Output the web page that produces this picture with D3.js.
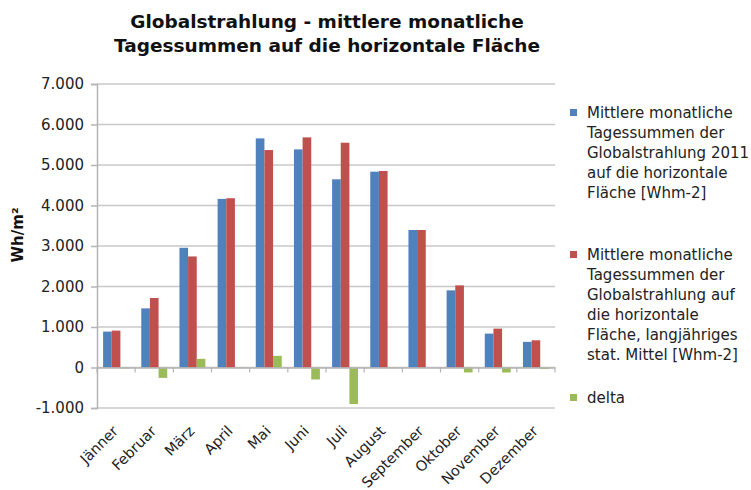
<!DOCTYPE html>
<html>
<head>
<meta charset="utf-8">
<script src="https://cdn.jsdelivr.net/npm/d3@7"></script>
<style>
  html, body { margin: 0; padding: 0; background: #fff; }
  svg { display: block; font-family: "DejaVu Sans", Verdana, sans-serif; }
</style>
</head>
<body>
<svg id="chart" width="751" height="490"></svg>
<script>
const categories = ["Jänner", "Februar", "März", "April", "Mai", "Juni", "Juli", "August", "September", "Oktober", "November", "Dezember"];
const values2011 = [887, 1460, 2956, 4163, 5657, 5386, 4647, 4835, 3395, 1905, 837, 633];
const valuesMean = [911, 1716, 2742, 4180, 5369, 5682, 5550, 4852, 3395, 2027, 960, 672];
const valuesDelta = [-24, -256, 214, -17, 288, -296, -903, -17, 0, -122, -123, -39];
const yTickValues = [-1000, 0, 1000, 2000, 3000, 4000, 5000, 6000, 7000];
const seriesNames = [
  ["Mittlere monatliche", "Tagessummen der", "Globalstrahlung 2011", "auf die horizontale", "Fläche [Whm-2]"],
  ["Mittlere monatliche", "Tagessummen der", "Globalstrahlung auf", "die horizontale", "Fläche, langjähriges", "stat. Mittel [Whm-2]"],
  ["delta"]
];
const seriesColors = ["#4f81bd", "#c0504d", "#9bbb59"];
const titleLines = ["Globalstrahlung - mittlere monatliche", "Tagessummen auf die horizontale Fläche"];
const yTitle = "Wh/m²";

const seriesValues = [values2011, valuesMean, valuesDelta];
const svg = d3.select("#chart");

const plot = { left: 97, right: 555, top: 84, bottom: 408 };

const x0 = d3.scaleBand().domain(categories).range([plot.left, plot.right])
  .paddingInner(0.32).paddingOuter(0.16);
const x1 = d3.scaleBand().domain([0, 1, 2]).range([0, x0.bandwidth()]);
const y = d3.scaleLinear().domain([-1000, 7000]).range([plot.bottom, plot.top]);

const locale = d3.formatLocale({ decimal: ",", thousands: ".", grouping: [3], currency: ["", " €"], minus: "-" });
const fmt = locale.format(",.0f");

const gridColor = "#c8c8c8";

// Gridlines
svg.append("g").selectAll("line").data(yTickValues).join("line")
  .attr("x1", plot.left).attr("x2", plot.right)
  .attr("y1", d => y(d)).attr("y2", d => y(d))
  .attr("stroke", gridColor).attr("stroke-width", 1.5);

// Y axis
const yAxis = svg.append("g").attr("transform", `translate(${plot.left},0)`)
  .call(d3.axisLeft(y).tickValues(yTickValues).tickFormat(fmt).tickSize(6).tickPadding(7));
yAxis.select(".domain").attr("stroke", "#b4b4b4").attr("stroke-width", 1.5);
yAxis.selectAll(".tick line").attr("stroke", "#b4b4b4").attr("stroke-width", 1.5);
yAxis.selectAll(".tick text").attr("font-size", 15).attr("fill", "#222")
  .attr("font-family", "DejaVu Sans, Verdana, sans-serif");

// Bars
const groups = svg.append("g").selectAll("g").data(categories).join("g")
  .attr("transform", d => `translate(${x0(d)},0)`);
groups.selectAll("rect").data((d, i) => seriesValues.map((s, k) => ({ k, v: s[i] }))).join("rect")
  .attr("x", d => x1(d.k))
  .attr("width", x1.bandwidth())
  .attr("y", d => y(Math.max(0, d.v)))
  .attr("height", d => Math.abs(y(d.v) - y(0)))
  .attr("fill", d => seriesColors[d.k]);

// X axis (zero line)
const xAxis = svg.append("g").attr("transform", `translate(0,${y(0)})`)
  .call(d3.axisBottom(x0).tickSize(0).tickFormat(""));
xAxis.select(".domain").attr("stroke", "#b4b4b4").attr("stroke-width", 1.5);
const boundaries = d3.range(categories.length + 1).map(i => plot.left + i * x0.step());
svg.append("g").selectAll("line").data(boundaries).join("line")
  .attr("x1", d => d).attr("x2", d => d)
  .attr("y1", y(0)).attr("y2", y(0) + 5)
  .attr("stroke", "#b4b4b4").attr("stroke-width", 1.2);

// X labels rotated
svg.append("g").selectAll("text").data(categories).join("text")
  .attr("transform", d => `translate(${x0(d) + x0.bandwidth() / 2 + 3},${432}) rotate(-45)`)
  .attr("text-anchor", "end")
  .attr("font-size", 14.5).attr("fill", "#222")
  .text(d => d);

// Title
svg.append("g").selectAll("text").data(titleLines).join("text")
  .attr("x", 327).attr("y", (d, i) => 28 + i * 24)
  .attr("text-anchor", "middle")
  .attr("font-size", 18.5).attr("font-weight", "bold").attr("fill", "#111")
  .text(d => d);

// Y title
svg.append("text")
  .attr("transform", `translate(23,235) rotate(-90)`)
  .attr("text-anchor", "middle")
  .attr("font-size", 15).attr("font-weight", "bold").attr("fill", "#111")
  .text(yTitle);

// Legend
const legendStarts = [118, 260, 403];
const legend = svg.append("g").selectAll("g").data(seriesNames).join("g");
legend.append("rect")
  .attr("x", 570).attr("y", (d, i) => legendStarts[i] - 9)
  .attr("width", 7).attr("height", 7)
  .attr("fill", (d, i) => seriesColors[i]);
legend.append("text")
  .attr("font-size", 15).attr("fill", "#222")
  .selectAll("tspan").data((d, i) => d.map((line, j) => ({ line, j, i }))).join("tspan")
  .attr("x", 587).attr("y", d => legendStarts[d.i] + d.j * 20)
  .text(d => d.line);
</script>
</body>
</html>
